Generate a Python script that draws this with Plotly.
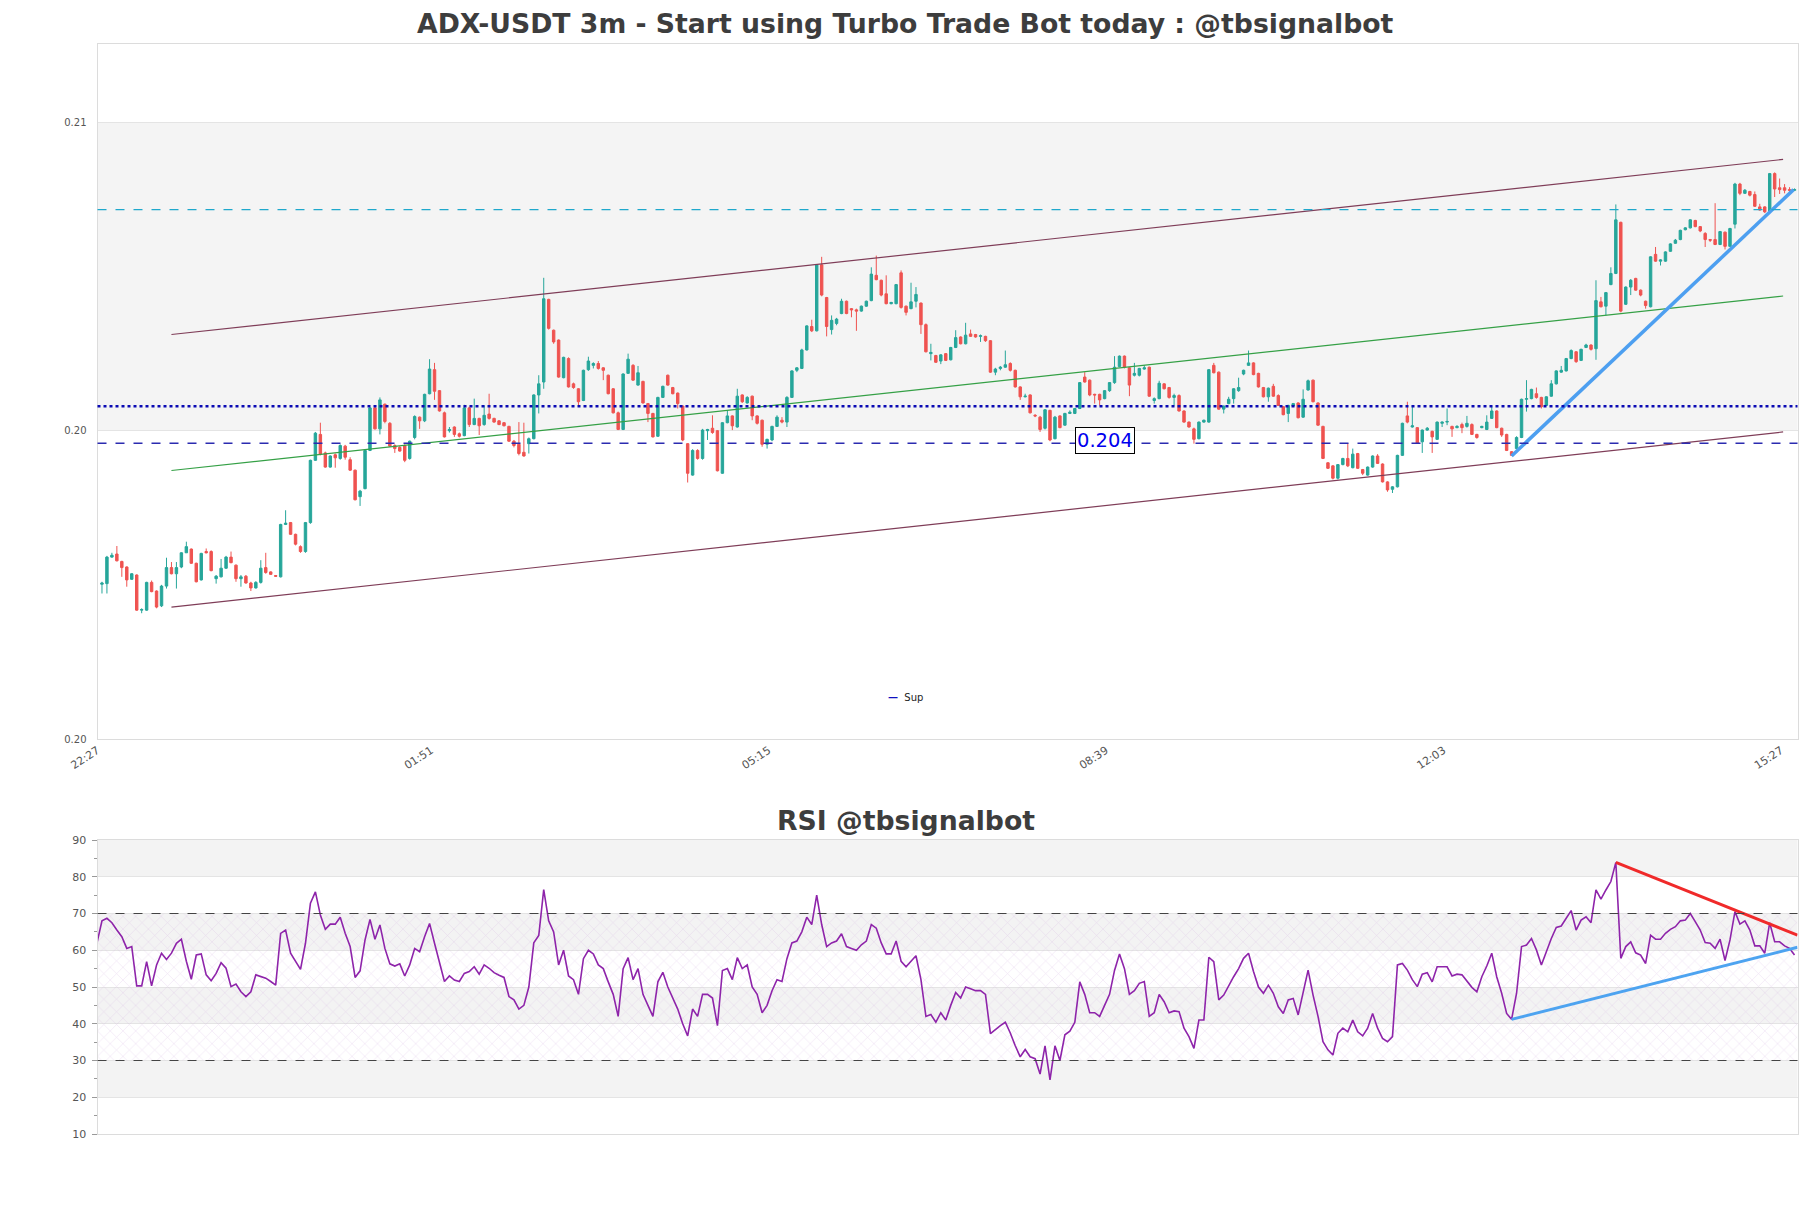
import pandas as pd
import plotly.graph_objects as go

# ---------------- data ----------------
start_time = pd.Timestamp("2024-05-20 22:27")
bar = pd.Timedelta(minutes=3)

opens = [
0.20251,0.20252,0.20295,0.20300,0.20288,0.20279,0.20259,0.20266,0.20209,0.20209,
0.20254,0.20240,0.20216,0.20248,0.20278,0.20268,0.20279,0.20302,0.20308,0.20285,
0.20258,0.20304,0.20304,0.20260,0.20263,0.20277,0.20295,0.20282,0.20260,0.20264,
0.20253,0.20245,0.20254,0.20278,0.20271,0.20265,0.20263,0.20348,0.20351,0.20332,
0.20312,0.20304,0.20351,0.20452,0.20494,0.20464,0.20441,0.20461,0.20455,0.20475,
0.20453,0.20436,0.20393,0.20406,0.20468,0.20537,0.20503,0.20543,0.20512,0.20476,
0.20473,0.20476,0.20455,0.20489,0.20522,0.20516,0.20560,0.20599,0.20565,0.20529,
0.20500,0.20506,0.20495,0.20492,0.20537,0.20510,0.20520,0.20510,0.20527,0.20520,
0.20516,0.20513,0.20507,0.20483,0.20478,0.20465,0.20479,0.20487,0.20558,0.20579,
0.20713,0.20663,0.20647,0.20586,0.20617,0.20576,0.20568,0.20549,0.20599,0.20606,
0.20609,0.20602,0.20590,0.20568,0.20529,0.20502,0.20593,0.20606,0.20574,0.20580,
0.20544,0.20528,0.20491,0.20554,0.20590,0.20570,0.20561,0.20540,0.20479,0.20428,
0.20468,0.20455,0.20500,0.20504,0.20500,0.20431,0.20513,0.20524,0.20506,0.20558,
0.20545,0.20556,0.20524,0.20517,0.20478,0.20485,0.20507,0.20517,0.20514,0.20554,
0.20598,0.20601,0.20631,0.20669,0.20662,0.20769,0.20716,0.20664,0.20674,0.20690,
0.20710,0.20698,0.20696,0.20694,0.20702,0.20711,0.20752,0.20744,0.20722,0.20706,
0.20706,0.20756,0.20702,0.20698,0.20710,0.20707,0.20672,0.20625,0.20622,0.20613,
0.20625,0.20615,0.20635,0.20652,0.20641,0.20657,0.20656,0.20653,0.20653,0.20646,
0.20595,0.20601,0.20603,0.20609,0.20598,0.20571,0.20555,0.20558,0.20525,0.20522,
0.20504,0.20533,0.20487,0.20524,0.20509,0.20528,0.20528,0.20536,0.20587,0.20582,
0.20559,0.20559,0.20552,0.20565,0.20578,0.20604,0.20621,0.20602,0.20590,0.20590,
0.20600,0.20603,0.20549,0.20552,0.20576,0.20570,0.20554,0.20557,0.20532,0.20514,
0.20503,0.20487,0.20514,0.20514,0.20606,0.20595,0.20535,0.20544,0.20552,0.20565,
0.20592,0.20606,0.20610,0.20593,0.20570,0.20555,0.20572,0.20557,0.20539,0.20528,
0.20540,0.20545,0.20522,0.20566,0.20582,0.20545,0.20507,0.20448,0.20443,0.20423,
0.20445,0.20455,0.20440,0.20463,0.20437,0.20428,0.20441,0.20459,0.20446,0.20417,
0.20405,0.20409,0.20460,0.20524,0.20506,0.20505,0.20482,0.20501,0.20499,0.20486,
0.20512,0.20514,0.20507,0.20505,0.20510,0.20507,0.20510,0.20494,0.20505,0.20502,
0.20520,0.20532,0.20504,0.20494,0.20466,0.20471,0.20489,0.20551,0.20552,0.20560,
0.20554,0.20541,0.20556,0.20576,0.20595,0.20597,0.20617,0.20628,0.20614,0.20635,
0.20639,0.20633,0.20709,0.20702,0.20737,0.20755,0.20838,0.20705,0.20733,0.20747,
0.20728,0.20710,0.20701,0.20786,0.20775,0.20775,0.20791,0.20804,0.20810,0.20826,
0.20829,0.20841,0.20831,0.20820,0.20810,0.20810,0.20802,0.20822,0.20799,0.20835,
0.20900,0.20885,0.20888,0.20883,0.20863,0.20863,0.20856,0.20917,0.20894,0.20894,
0.20891,0.20890]

highs = [
0.20255,0.20297,0.20302,0.20313,0.20289,0.20280,0.20269,0.20267,0.20212,0.20255,
0.20257,0.20241,0.20250,0.20294,0.20287,0.20287,0.20303,0.20320,0.20309,0.20286,
0.20302,0.20309,0.20306,0.20266,0.20292,0.20297,0.20304,0.20283,0.20266,0.20266,
0.20255,0.20256,0.20290,0.20302,0.20272,0.20266,0.20349,0.20371,0.20352,0.20333,
0.20314,0.20352,0.20453,0.20498,0.20513,0.20466,0.20460,0.20463,0.20478,0.20477,
0.20457,0.20437,0.20404,0.20469,0.20538,0.20541,0.20554,0.20544,0.20514,0.20478,
0.20475,0.20478,0.20484,0.20525,0.20523,0.20560,0.20616,0.20610,0.20566,0.20531,
0.20506,0.20507,0.20497,0.20542,0.20539,0.20552,0.20521,0.20541,0.20560,0.20521,
0.20517,0.20514,0.20508,0.20485,0.20514,0.20513,0.20489,0.20559,0.20590,0.20748,
0.20714,0.20664,0.20648,0.20620,0.20619,0.20578,0.20569,0.20599,0.20620,0.20611,
0.20613,0.20603,0.20591,0.20569,0.20531,0.20593,0.20625,0.20608,0.20605,0.20581,
0.20545,0.20529,0.20555,0.20573,0.20591,0.20571,0.20562,0.20541,0.20480,0.20470,
0.20470,0.20503,0.20503,0.20525,0.20501,0.20514,0.20533,0.20525,0.20568,0.20559,
0.20556,0.20557,0.20525,0.20518,0.20487,0.20508,0.20525,0.20522,0.20556,0.20598,
0.20603,0.20633,0.20671,0.20680,0.20770,0.20782,0.20717,0.20687,0.20683,0.20714,
0.20711,0.20699,0.20698,0.20703,0.20711,0.20765,0.20784,0.20745,0.20752,0.20709,
0.20738,0.20760,0.20703,0.20740,0.20733,0.20708,0.20674,0.20641,0.20623,0.20624,
0.20626,0.20636,0.20663,0.20653,0.20675,0.20664,0.20657,0.20656,0.20654,0.20647,
0.20602,0.20605,0.20630,0.20611,0.20599,0.20572,0.20560,0.20559,0.20527,0.20524,
0.20535,0.20534,0.20524,0.20525,0.20529,0.20533,0.20537,0.20579,0.20595,0.20583,
0.20560,0.20560,0.20566,0.20579,0.20621,0.20622,0.20622,0.20603,0.20610,0.20602,
0.20606,0.20604,0.20554,0.20581,0.20577,0.20571,0.20560,0.20559,0.20533,0.20515,
0.20505,0.20515,0.20518,0.20600,0.20610,0.20596,0.20541,0.20555,0.20569,0.20586,
0.20599,0.20630,0.20611,0.20594,0.20571,0.20570,0.20576,0.20559,0.20540,0.20542,
0.20545,0.20546,0.20567,0.20583,0.20583,0.20546,0.20508,0.20449,0.20444,0.20446,
0.20456,0.20480,0.20471,0.20464,0.20438,0.20442,0.20460,0.20462,0.20447,0.20418,
0.20410,0.20461,0.20513,0.20547,0.20541,0.20506,0.20502,0.20506,0.20500,0.20515,
0.20515,0.20536,0.20508,0.20509,0.20513,0.20524,0.20512,0.20495,0.20508,0.20525,
0.20539,0.20533,0.20505,0.20495,0.20467,0.20491,0.20552,0.20582,0.20568,0.20570,
0.20555,0.20556,0.20582,0.20598,0.20605,0.20618,0.20632,0.20629,0.20633,0.20641,
0.20640,0.20744,0.20717,0.20725,0.20765,0.20867,0.20839,0.20734,0.20746,0.20748,
0.20729,0.20711,0.20783,0.20798,0.20778,0.20791,0.20804,0.20811,0.20826,0.20830,
0.20843,0.20842,0.20832,0.20822,0.20811,0.20869,0.20824,0.20823,0.20829,0.20902,
0.20902,0.20892,0.20889,0.20888,0.20868,0.20864,0.20918,0.20919,0.20909,0.20900,
0.20895,0.20893]

lows = [
0.20236,0.20236,0.20294,0.20288,0.20263,0.20247,0.20258,0.20208,0.20204,0.20208,
0.20238,0.20212,0.20214,0.20244,0.20267,0.20244,0.20277,0.20302,0.20284,0.20254,
0.20257,0.20301,0.20272,0.20252,0.20262,0.20276,0.20285,0.20255,0.20247,0.20252,
0.20240,0.20244,0.20252,0.20268,0.20266,0.20263,0.20262,0.20347,0.20331,0.20314,
0.20302,0.20302,0.20349,0.20451,0.20460,0.20440,0.20440,0.20440,0.20453,0.20453,
0.20435,0.20387,0.20378,0.20405,0.20467,0.20502,0.20494,0.20512,0.20474,0.20464,
0.20466,0.20449,0.20453,0.20486,0.20503,0.20514,0.20559,0.20550,0.20531,0.20489,
0.20497,0.20490,0.20489,0.20491,0.20506,0.20509,0.20493,0.20508,0.20518,0.20513,
0.20509,0.20507,0.20482,0.20473,0.20460,0.20458,0.20463,0.20486,0.20528,0.20568,
0.20664,0.20641,0.20586,0.20585,0.20570,0.20568,0.20539,0.20548,0.20597,0.20601,
0.20599,0.20582,0.20559,0.20528,0.20501,0.20501,0.20592,0.20581,0.20573,0.20544,
0.20514,0.20489,0.20490,0.20553,0.20573,0.20559,0.20536,0.20483,0.20416,0.20427,
0.20453,0.20453,0.20485,0.20495,0.20434,0.20430,0.20512,0.20501,0.20505,0.20545,
0.20544,0.20517,0.20510,0.20474,0.20471,0.20483,0.20506,0.20512,0.20506,0.20553,
0.20595,0.20600,0.20630,0.20660,0.20661,0.20718,0.20653,0.20656,0.20671,0.20689,
0.20689,0.20684,0.20662,0.20693,0.20701,0.20710,0.20744,0.20718,0.20705,0.20705,
0.20705,0.20698,0.20687,0.20697,0.20700,0.20657,0.20627,0.20614,0.20610,0.20608,
0.20613,0.20614,0.20634,0.20640,0.20640,0.20652,0.20651,0.20644,0.20644,0.20594,
0.20590,0.20598,0.20602,0.20596,0.20570,0.20550,0.20554,0.20528,0.20522,0.20498,
0.20502,0.20483,0.20486,0.20504,0.20508,0.20527,0.20527,0.20535,0.20578,0.20556,
0.20544,0.20541,0.20551,0.20563,0.20576,0.20603,0.20601,0.20556,0.20588,0.20588,
0.20599,0.20555,0.20544,0.20551,0.20567,0.20552,0.20541,0.20531,0.20513,0.20505,
0.20479,0.20486,0.20513,0.20513,0.20593,0.20534,0.20528,0.20543,0.20544,0.20563,
0.20590,0.20605,0.20590,0.20570,0.20554,0.20547,0.20555,0.20540,0.20525,0.20514,
0.20539,0.20520,0.20521,0.20565,0.20546,0.20508,0.20454,0.20438,0.20421,0.20421,
0.20444,0.20441,0.20439,0.20438,0.20428,0.20427,0.20440,0.20446,0.20416,0.20401,
0.20399,0.20408,0.20459,0.20512,0.20505,0.20479,0.20464,0.20500,0.20464,0.20485,
0.20506,0.20509,0.20490,0.20504,0.20496,0.20505,0.20493,0.20487,0.20504,0.20501,
0.20519,0.20504,0.20490,0.20467,0.20459,0.20470,0.20488,0.20531,0.20551,0.20552,
0.20536,0.20540,0.20555,0.20575,0.20594,0.20596,0.20616,0.20610,0.20613,0.20634,
0.20630,0.20615,0.20700,0.20687,0.20736,0.20754,0.20692,0.20704,0.20720,0.20727,
0.20718,0.20698,0.20700,0.20774,0.20768,0.20774,0.20790,0.20803,0.20809,0.20825,
0.20828,0.20830,0.20822,0.20798,0.20806,0.20801,0.20801,0.20794,0.20798,0.20828,
0.20882,0.20884,0.20880,0.20863,0.20857,0.20853,0.20855,0.20879,0.20884,0.20885,
0.20887,0.20889]

closes = [
0.20253,0.20295,0.20298,0.20289,0.20278,0.20258,0.20268,0.20209,0.20210,0.20254,
0.20239,0.20214,0.20248,0.20278,0.20268,0.20278,0.20302,0.20312,0.20285,0.20255,
0.20301,0.20302,0.20273,0.20264,0.20277,0.20295,0.20286,0.20260,0.20263,0.20253,
0.20245,0.20254,0.20277,0.20270,0.20267,0.20264,0.20348,0.20350,0.20332,0.20316,
0.20304,0.20351,0.20452,0.20496,0.20462,0.20441,0.20459,0.20456,0.20476,0.20457,
0.20436,0.20388,0.20402,0.20468,0.20537,0.20503,0.20550,0.20515,0.20475,0.20471,
0.20467,0.20452,0.20483,0.20523,0.20516,0.20559,0.20600,0.20564,0.20532,0.20490,
0.20502,0.20494,0.20491,0.20537,0.20510,0.20520,0.20508,0.20525,0.20520,0.20514,
0.20510,0.20508,0.20483,0.20476,0.20463,0.20459,0.20487,0.20558,0.20576,0.20714,
0.20666,0.20644,0.20587,0.20619,0.20571,0.20570,0.20547,0.20598,0.20613,0.20609,
0.20601,0.20598,0.20560,0.20529,0.20502,0.20592,0.20616,0.20582,0.20594,0.20545,
0.20528,0.20490,0.20554,0.20572,0.20574,0.20560,0.20544,0.20485,0.20431,0.20468,
0.20455,0.20501,0.20502,0.20497,0.20435,0.20513,0.20524,0.20508,0.20556,0.20547,
0.20554,0.20524,0.20512,0.20478,0.20486,0.20507,0.20522,0.20514,0.20554,0.20597,
0.20602,0.20631,0.20670,0.20662,0.20769,0.20720,0.20669,0.20679,0.20681,0.20710,
0.20690,0.20696,0.20694,0.20702,0.20710,0.20754,0.20745,0.20720,0.20706,0.20708,
0.20737,0.20700,0.20692,0.20709,0.20721,0.20672,0.20628,0.20627,0.20611,0.20623,
0.20614,0.20635,0.20651,0.20641,0.20655,0.20653,0.20652,0.20654,0.20646,0.20595,
0.20600,0.20603,0.20607,0.20598,0.20571,0.20555,0.20556,0.20529,0.20524,0.20502,
0.20534,0.20485,0.20522,0.20505,0.20528,0.20530,0.20536,0.20578,0.20579,0.20558,
0.20558,0.20550,0.20565,0.20578,0.20603,0.20621,0.20603,0.20574,0.20593,0.20601,
0.20602,0.20556,0.20552,0.20577,0.20568,0.20554,0.20557,0.20532,0.20514,0.20506,
0.20486,0.20514,0.20517,0.20599,0.20594,0.20535,0.20540,0.20551,0.20568,0.20570,
0.20598,0.20610,0.20591,0.20571,0.20555,0.20569,0.20556,0.20541,0.20526,0.20541,
0.20544,0.20521,0.20551,0.20581,0.20547,0.20509,0.20455,0.20439,0.20423,0.20445,
0.20455,0.20443,0.20462,0.20439,0.20431,0.20441,0.20459,0.20447,0.20417,0.20404,
0.20409,0.20460,0.20512,0.20514,0.20508,0.20480,0.20501,0.20504,0.20490,0.20514,
0.20514,0.20515,0.20503,0.20507,0.20505,0.20512,0.20494,0.20489,0.20507,0.20514,
0.20532,0.20505,0.20493,0.20468,0.20460,0.20489,0.20551,0.20552,0.20567,0.20554,
0.20539,0.20555,0.20576,0.20597,0.20598,0.20617,0.20630,0.20612,0.20632,0.20639,
0.20632,0.20711,0.20701,0.20724,0.20755,0.20842,0.20694,0.20733,0.20744,0.20728,
0.20720,0.20703,0.20782,0.20775,0.20777,0.20790,0.20803,0.20809,0.20825,0.20829,
0.20842,0.20831,0.20824,0.20810,0.20809,0.20802,0.20823,0.20799,0.20828,0.20900,
0.20885,0.20890,0.20882,0.20864,0.20858,0.20855,0.20917,0.20892,0.20891,0.20890,
0.20890,0.20891]

# RSI values, first value belongs to the bar just before the first candle
rsi_values = [62,
68,68.7,67.5,65.5,63.7,60.5,61,50.3,50.3,56.9,
50.3,56,59.2,57.5,59.2,61.9,63,57,52.1,58.7,
59,53.3,51.7,53.7,56.6,55.1,50.1,50.8,48.7,47.4,
48.7,53.3,52.9,52.4,51.5,50.5,64.6,65.5,59.2,56.9,
54.8,61.9,72.8,75.9,69.6,65.7,67.1,67.1,69,64.6,
61,52.6,54.4,62.8,68.4,63,66.9,60.5,56.3,55.7,
56.3,53,56,60.5,59.6,63.7,67.3,61.9,56.4,51.5,
53,51.9,51.5,53.7,54.2,55.5,53.5,56,55.1,53.9,
53.2,52.6,47.4,46.5,44,45,50,62,64,76.5,
68,65,56,60,53,52,48,57.7,60,59,
56,55,51.4,48,42,55,58,52,55,48,
45,42,51.4,54,50,47,44,40,36.7,44,
42,48,48,47,39.5,54.5,55,52,58,55,
56,50,48,43,45,49,52,51.5,57.7,62,
62.5,65,69,67,75,67,61,62,62.5,64.5,
61,60.5,60,61.5,62.5,67,66,62,59,59,
62.5,57,55.5,57,58.5,52,42,42.5,40.4,43,
41,45,48.5,47,50,49.5,49,49,48,37.3,
38.5,39.5,40.4,37.5,34,31,33,31,30.5,26.3,
34,24.7,34,30,37,38,40.4,51.4,48,43,
43,42,45,48,54.5,59,55,48,49,51,
51.5,42,43,48,46,43,43.5,43.3,38.8,36.5,
33.3,41,41,58.1,56.9,46.5,47.8,50.5,52.8,55,
57.8,59.2,54.2,50,48.3,50.5,48.3,44.6,42.8,46.5,
46.9,42.4,49,54.6,47.8,42,35.1,32.9,31.5,37.4,
38.8,37.8,41,37.8,36.7,38.8,42.8,38.8,36,35.1,
36.5,56,56.4,54.6,52,50.1,53.5,53.9,51.4,55.5,
55.5,55.5,53,53.5,53.3,51.5,49.9,48.7,52.8,55.7,
59.2,52.8,48.3,42.8,41.2,48.3,61,61.4,63.2,60.1,
56,59.6,63.2,66.2,66.6,68.7,70.8,65.5,68.2,69.1,
67.5,76.4,73.9,76.4,78.7,83.9,57.8,61,62.3,59.3,
58.7,56.4,64.1,63,63,64.6,65.7,66.4,68,68.2,
70,67.8,65.5,62.1,61.9,60.5,63,57.2,62.8,70.5,
67.1,68,65.5,61.2,61.2,59.2,67.5,62.3,62.3,61.2,
60.5,58.7]

# tick positions (in bar units) as they sit in the picture
tick_bars = [-0.9, 66.3, 134.3, 202.3, 270.3, 338.3]
tick_labels = ["22:27", "01:51", "05:15", "08:39", "12:03", "15:27"]

# channel (bar index, price)
channel_bars = [14, 338.7]
channel_upper = [0.20656, 0.20940]
channel_mid = [0.204355, 0.207185]
channel_lower = [0.20214, 0.20498]

# rising trend line on price
trend_bars = [284, 340.8]
trend_prices = [0.20459, 0.20891]

# horizontal levels
level_cyan = 0.208585
level_sup_dotted = 0.205397
level_sup_dashed = 0.204797
sup_label = "0.204"
sup_label_bar = 202

# RSI trend lines (bar index, value)
rsi_res_bars = [305, 341.6]
rsi_res_vals = [83.9, 64.1]
rsi_sup_bars = [284, 341.6]
rsi_sup_vals = [41.2, 60.8]

x_range_bars = [-0.9, 341.6]

# ---------------- helpers ----------------
def bt(i):
    return start_time + bar * i

times = [bt(i) for i in range(len(closes))]
rsi_times = [bt(i - 1) for i in range(len(rsi_values))]
x_range = [bt(x_range_bars[0]), bt(x_range_bars[1])]

W, H = 1811, 1208
def px_x(p): return p / W
def px_y(p): return 1 - p / H

dom_x = [px_x(97.5), px_x(1797.5)]
dom_main = [px_y(739), px_y(43.5)]
dom_rsi = [px_y(1134), px_y(840)]

fig = go.Figure()

fig.add_trace(go.Candlestick(
    x=times, open=opens, high=highs, low=lows, close=closes,
    increasing=dict(line=dict(color="#26a69a", width=1), fillcolor="#26a69a"),
    decreasing=dict(line=dict(color="#ef5350", width=1), fillcolor="#ef5350"),
    whiskerwidth=0, showlegend=False, hoverinfo="skip",
    xaxis="x", yaxis="y"))

chan_x = [bt(b) for b in channel_bars]
for ys, col in [(channel_upper, "#7f3d58"), (channel_lower, "#7f3d58"), (channel_mid, "#35a046")]:
    fig.add_trace(go.Scatter(x=chan_x, y=ys, mode="lines",
                             line=dict(color=col, width=1.2),
                             showlegend=False, hoverinfo="skip", xaxis="x", yaxis="y"))

fig.add_trace(go.Scatter(x=[bt(b) for b in trend_bars], y=trend_prices, mode="lines",
                         line=dict(color="#4d9ff0", width=3.5),
                         showlegend=False, hoverinfo="skip", xaxis="x", yaxis="y"))

# RSI hatch band between 30 and 70
band_x = [x_range[0], x_range[1]]
fig.add_trace(go.Scatter(x=band_x, y=[30, 30], mode="lines", line=dict(width=0),
                         showlegend=False, hoverinfo="skip", xaxis="x2", yaxis="y2"))
fig.add_trace(go.Scatter(x=band_x, y=[70, 70], mode="lines", line=dict(width=0),
                         fill="tonexty", fillcolor="rgba(0,0,0,0)",
                         fillpattern=dict(shape="x", fgcolor="rgba(205,165,220,0.7)",
                                          size=9, solidity=0.12),
                         showlegend=False, hoverinfo="skip", xaxis="x2", yaxis="y2"))

fig.add_trace(go.Scatter(x=rsi_times, y=rsi_values, mode="lines",
                         line=dict(color="#8e24aa", width=1.6),
                         showlegend=False, hoverinfo="skip", xaxis="x2", yaxis="y2"))
fig.add_trace(go.Scatter(x=[bt(b) for b in rsi_res_bars], y=rsi_res_vals, mode="lines",
                         line=dict(color="#f02a2a", width=3),
                         showlegend=False, hoverinfo="skip", xaxis="x2", yaxis="y2"))
fig.add_trace(go.Scatter(x=[bt(b) for b in rsi_sup_bars], y=rsi_sup_vals, mode="lines",
                         line=dict(color="#4da3f0", width=3),
                         showlegend=False, hoverinfo="skip", xaxis="x2", yaxis="y2"))

shapes = []
shapes.append(dict(type="rect", xref="x domain", x0=0, x1=1, yref="y", y0=0.205, y1=0.21,
                   fillcolor="#f4f4f4", line=dict(width=0), layer="below"))
for lo, hi in [(80, 90), (60, 70), (40, 50), (20, 30)]:
    shapes.append(dict(type="rect", xref="x2 domain", x0=0, x1=1, yref="y2", y0=lo, y1=hi,
                       fillcolor="#f3f3f3", line=dict(width=0), layer="below"))
shapes.append(dict(type="line", xref="x domain", x0=0, x1=1, yref="y",
                   y0=level_cyan, y1=level_cyan,
                   line=dict(color="#1fa8cc", width=1.2, dash="dash")))
shapes.append(dict(type="line", xref="x domain", x0=0, x1=1, yref="y",
                   y0=level_sup_dotted, y1=level_sup_dotted,
                   line=dict(color="#0a0ab4", width=2.5, dash="dot")))
shapes.append(dict(type="line", xref="x domain", x0=0, x1=1, yref="y",
                   y0=level_sup_dashed, y1=level_sup_dashed,
                   line=dict(color="#2b2bb0", width=1.5, dash="dash")))
for lv in [70, 30]:
    shapes.append(dict(type="line", xref="x2 domain", x0=0, x1=1, yref="y2", y0=lv, y1=lv,
                       line=dict(color="#444444", width=1.2, dash="dash")))

annotations = [
    dict(text="<b>ADX-USDT 3m - Start using Turbo Trade Bot today : @tbsignalbot</b>",
         x=0.5, y=px_y(23), xref="paper", yref="paper", showarrow=False,
         font=dict(family="DejaVu Sans", size=26.7, color="#3d3d3d"),
         xanchor="center", yanchor="middle"),
    dict(text="<b>RSI @tbsignalbot</b>",
         x=0.5, y=px_y(820), xref="paper", yref="paper", showarrow=False,
         font=dict(family="DejaVu Sans", size=26.7, color="#3d3d3d"),
         xanchor="center", yanchor="middle"),
    dict(text=sup_label, x=bt(sup_label_bar), y=level_sup_dashed + 0.00004,
         xref="x", yref="y", showarrow=False,
         font=dict(family="DejaVu Sans", size=19.5, color="#0000ee"),
         bgcolor="white", bordercolor="black", borderwidth=1, borderpad=1),
    dict(text="<span style='color:#1010c0'><b>—</b></span>  Sup",
         x=px_x(905), y=px_y(697), xref="paper", yref="paper", showarrow=False,
         font=dict(family="DejaVu Sans", size=10, color="#222222"),
         xanchor="center", yanchor="middle"),
]

axis_line = "#dcdcdc"
fig.update_layout(
    width=W, height=H,
    margin=dict(l=0, r=0, t=0, b=0, autoexpand=False),
    paper_bgcolor="white", plot_bgcolor="white",
    showlegend=False,
    font=dict(family="DejaVu Sans", color="#444444"),
    shapes=shapes, annotations=annotations,
    xaxis=dict(domain=dom_x, anchor="y", type="date", range=x_range, automargin=False,
               tickvals=[bt(b) for b in tick_bars], ticktext=tick_labels,
               tickangle=-33, tickfont=dict(size=11, color="#555555"),
               showgrid=False, zeroline=False, showline=True, mirror=True,
               linecolor=axis_line, linewidth=1, ticks="",
               rangeslider=dict(visible=False)),
    yaxis=dict(domain=dom_main, anchor="x", range=[0.2, 0.21128], automargin=False,
               tickvals=[0.2, 0.205, 0.21], ticktext=["0.20", "0.20", "0.21"],
               tickfont=dict(size=10, color="#555555"),
               showgrid=True, gridcolor="#e4e4e4", zeroline=False,
               showline=True, mirror=True, linecolor=axis_line, linewidth=1,
               ticks="", ticklabelstandoff=8),
    xaxis2=dict(domain=dom_x, anchor="y2", type="date", range=x_range, automargin=False,
                showticklabels=False, showgrid=False, zeroline=False,
                showline=True, mirror=True, linecolor=axis_line, linewidth=1, ticks=""),
    yaxis2=dict(domain=dom_rsi, anchor="x2", range=[10, 90], dtick=10, tick0=10,
                automargin=False,
                tickfont=dict(size=11, color="#555555"),
                ticks="outside", ticklen=5, tickcolor="#999999",
                minor=dict(dtick=5, ticks="outside", ticklen=3, tickcolor="#999999", showgrid=False),
                showgrid=True, gridcolor="#e4e4e4", zeroline=False,
                showline=True, mirror=True, linecolor=axis_line, linewidth=1,
                ticklabelstandoff=3),
)

fig.write_html("out.html")
